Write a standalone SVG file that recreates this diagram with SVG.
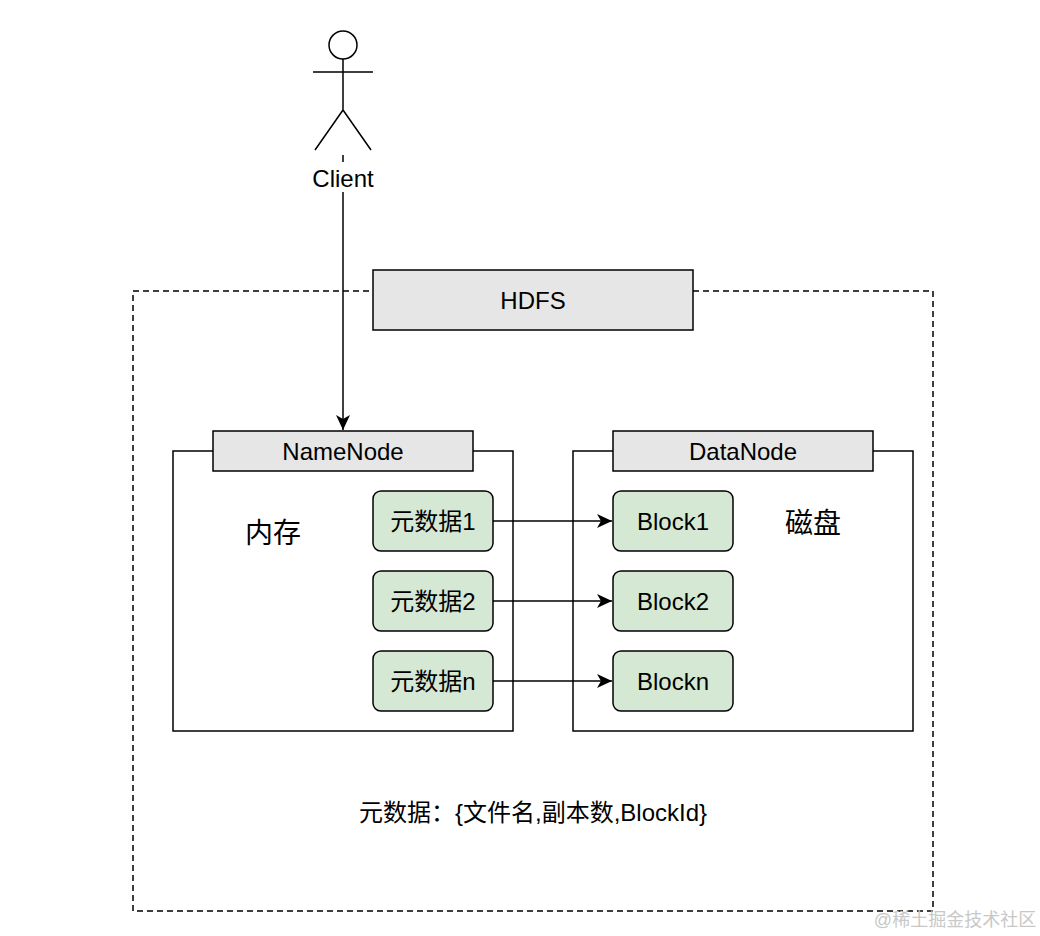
<svg xmlns="http://www.w3.org/2000/svg" width="1040" height="936" viewBox="0 0 1040 936">
<style>
text{font-family:"Liberation Sans","Noto Sans CJK SC",sans-serif;fill:#000;text-anchor:middle;dominant-baseline:central}
.hdr{fill:#e6e6e6;stroke:#000;stroke-width:1.5}
.box{fill:#fff;stroke:#000;stroke-width:1.5}
.g{fill:#d5e8d4;stroke:#000;stroke-width:1.5}
.ln{stroke:#000;stroke-width:1.5;fill:none}
</style>
<defs><marker id="a" markerWidth="16" markerHeight="16" refX="15" refY="7" orient="auto" markerUnits="userSpaceOnUse"><path d="M0,0 L15,7 L0,14 L4,7 Z" fill="#000"/></marker></defs>
<rect width="1040" height="936" fill="#fff"/>
<g id="client">
<circle cx="343" cy="45" r="14" class="ln"/>
<path class="ln" d="M343,59 V110 M313,72 H373 M343,110 L315,150 M343,110 L371,150"/>
<text x="343" y="178" font-size="24">Client</text>
</g>
<g id="hdfs">
<rect x="133" y="291" width="800" height="620" fill="none" stroke="#000" stroke-width="1.5" stroke-dasharray="6,4"/>
<rect x="373" y="270" width="320" height="60" class="hdr"/>
<text x="533" y="300" font-size="24">HDFS</text>
</g>
<g id="namenode">
<rect x="173" y="451" width="340" height="280" class="box"/>
<rect x="213" y="431" width="260" height="40" class="hdr"/>
<text x="343" y="451" font-size="24">NameNode</text>
<text x="273" y="533" font-size="28">内存</text>
</g>
<g id="datanode">
<rect x="573" y="451" width="340" height="280" class="box"/>
<rect x="613" y="431" width="260" height="40" class="hdr"/>
<text x="743" y="451" font-size="24">DataNode</text>
<text x="813" y="523" font-size="28">磁盘</text>
</g>
<g id="m1"><rect x="373" y="491" width="120" height="60" rx="8" class="g"/><text x="433" y="521" font-size="24">元数据1</text></g>
<g id="m2"><rect x="373" y="571" width="120" height="60" rx="8" class="g"/><text x="433" y="601" font-size="24">元数据2</text></g>
<g id="mn"><rect x="373" y="651" width="120" height="60" rx="8" class="g"/><text x="433" y="681" font-size="24">元数据n</text></g>
<g id="b1"><rect x="613" y="491" width="120" height="60" rx="8" class="g"/><text x="673" y="521" font-size="24">Block1</text></g>
<g id="b2"><rect x="613" y="571" width="120" height="60" rx="8" class="g"/><text x="673" y="601" font-size="24">Block2</text></g>
<g id="bn"><rect x="613" y="651" width="120" height="60" rx="8" class="g"/><text x="673" y="681" font-size="24">Blockn</text></g>
<g id="connectors">
<path class="ln" d="M343,155 V162"/>
<path class="ln" d="M343,192 V430" marker-end="url(#a)"/>
<path class="ln" d="M493,521 H612" marker-end="url(#a)"/>
<path class="ln" d="M493,601 H612" marker-end="url(#a)"/>
<path class="ln" d="M493,681 H612" marker-end="url(#a)"/>
</g>
<text x="533" y="812" font-size="24">元数据：{文件名,副本数,BlockId}</text>
<text x="955" y="920" font-size="18" style="fill:#c8c8c8">@稀土掘金技术社区</text>
</svg>
